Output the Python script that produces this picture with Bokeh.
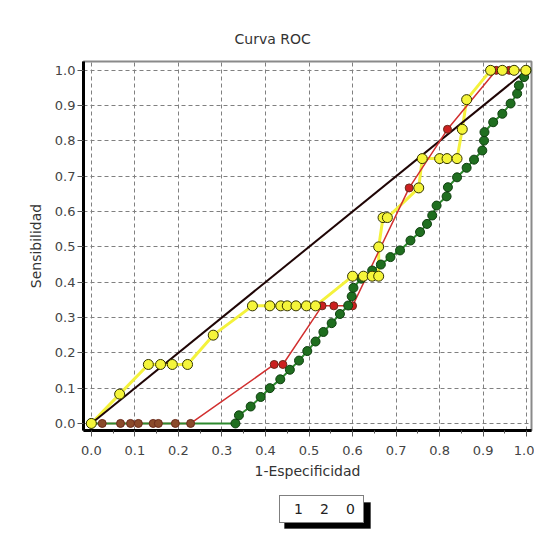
from bokeh.plotting import figure
from bokeh.models import Range1d, Legend, LegendItem, FixedTicker, NumeralTickFormatter, BoxAnnotation
from bokeh.layouts import column
from bokeh.embed import file_html
from bokeh.resources import INLINE

# ---- data ----
diag_x = [0.0, 1.0]
diag_y = [0.0, 1.0]

yellow_x = [0.0, 0.065, 0.131, 0.159, 0.186, 0.221, 0.28, 0.37, 0.41, 0.435, 0.45, 0.47,
            0.494, 0.515, 0.60, 0.625, 0.645, 0.66, 0.66, 0.67, 0.68, 0.752, 0.76, 0.80,
            0.817, 0.84, 0.852, 0.862, 0.917, 0.944, 0.971, 0.998]
yellow_y = [0.0, 0.083, 0.167, 0.167, 0.167, 0.167, 0.25, 0.333, 0.333, 0.333, 0.333, 0.333,
            0.333, 0.333, 0.417, 0.417, 0.417, 0.417, 0.5, 0.583, 0.583, 0.667, 0.75, 0.75,
            0.75, 0.75, 0.833, 0.917, 1.0, 1.0, 1.0, 1.0]

red_x = [0.0, 0.025, 0.067, 0.09, 0.108, 0.142, 0.154, 0.193, 0.228, 0.42, 0.44, 0.53,
         0.557, 0.60, 0.73, 0.818, 0.93, 0.96, 1.0]
red_y = [0.0, 0.0, 0.0, 0.0, 0.0, 0.0, 0.0, 0.0, 0.0, 0.167, 0.167, 0.333,
         0.333, 0.333, 0.667, 0.833, 1.0, 1.0, 1.0]

green_x = [0.0, 0.331, 0.339, 0.366, 0.389, 0.41, 0.434, 0.456, 0.477, 0.496, 0.515, 0.533,
           0.552, 0.571, 0.59, 0.598, 0.602, 0.62, 0.645, 0.665, 0.687, 0.709, 0.733, 0.755,
           0.771, 0.783, 0.793, 0.816, 0.819, 0.84, 0.862, 0.879, 0.898, 0.902, 0.903, 0.923,
           0.944, 0.963, 0.978, 0.982, 0.994, 1.0]
green_y = [0.0, 0.0, 0.023, 0.048, 0.075, 0.10, 0.125, 0.152, 0.178, 0.205, 0.232, 0.259,
           0.284, 0.31, 0.334, 0.36, 0.384, 0.41, 0.433, 0.45, 0.471, 0.49, 0.518, 0.542,
           0.565, 0.589, 0.617, 0.643, 0.669, 0.697, 0.724, 0.747, 0.773, 0.801, 0.825, 0.853,
           0.877, 0.906, 0.934, 0.957, 0.981, 1.0]

ticks = [0.0, 0.1, 0.2, 0.3, 0.4, 0.5, 0.6, 0.7, 0.8, 0.9, 1.0]
legend_labels = ["1", "2", "0"]

FONT = "DejaVu Sans"
W = 534

p = figure(width=W, height=490, output_backend="svg", toolbar_location=None,
           x_range=Range1d(-0.018, 1.011), y_range=Range1d(-0.02, 1.025),
           title="Curva ROC",
           min_border_left=83, min_border_right=3, min_border_top=61, min_border_bottom=60)

p.title.align = "left"
p.title.offset = 151
p.title.text_font = FONT
p.title.text_font_size = "14px"
p.title.text_font_style = "normal"
p.title.text_color = "#333333"
p.title.standoff = 30

p.background_fill_color = "white"
p.border_fill_color = "white"
p.outline_line_color = "#8a8a8a"
p.outline_line_width = 2

for ax in (p.xaxis[0], p.yaxis[0]):
    ax.ticker = FixedTicker(ticks=ticks, minor_ticks=[t + 0.05 for t in ticks[:-1]])
    ax.formatter = NumeralTickFormatter(format="0.0")
    ax.axis_line_color = "black"
    ax.axis_line_width = 3
    ax.major_tick_line_color = "#555555"
    ax.minor_tick_line_color = "#555555"
    ax.major_tick_out = 6
    ax.major_tick_in = 0
    ax.minor_tick_out = 3
    ax.minor_tick_in = 0
    ax.major_label_text_font = FONT
    ax.major_label_text_font_size = "13px"
    ax.major_label_text_color = "#444444"
    ax.major_label_standoff = 2
    ax.axis_label_text_font = FONT
    ax.axis_label_text_font_size = "14px"
    ax.axis_label_text_font_style = "normal"
    ax.axis_label_text_color = "#333333"
    ax.axis_label_standoff = 8

p.xaxis[0].major_label_standoff = 9
p.xaxis[0].axis_label_standoff = 5
p.yaxis[0].minor_tick_line_color = None
p.xaxis.axis_label = "1-Especificidad"
p.yaxis.axis_label = "Sensibilidad"

for g in (p.xgrid[0], p.ygrid[0]):
    g.ticker = FixedTicker(ticks=ticks)
    g.grid_line_color = "#808080"
    g.grid_line_dash = "4 3"
    g.grid_line_width = 1

# lines
p.line(yellow_x, yellow_y, line_color="#f4f23c", line_width=3)
p.line(diag_x, diag_y, line_color="#1f0505", line_width=2)
p.line(red_x, red_y, line_color="#d23030", line_width=1.5)
p.line(green_x, green_y, line_color="#2e8a2e", line_width=2)

red_fill = ["#8a4a2a" if v == 0 else "#cc2020" for v in red_y]
p.scatter(red_x, red_y, size=8, fill_color=red_fill, line_color="#6b2a1a", line_width=1)
p.scatter(green_x, green_y, size=9, fill_color="#1f6e1f", line_color="#0f3f0f", line_width=1)
p.scatter(yellow_x, yellow_y, size=10, fill_color="#f5f53a", line_color="#333300", line_width=1)

# ---- legend strip below ----
p2 = figure(width=W, height=50, output_backend="svg", toolbar_location=None,
            x_range=Range1d(0, W), y_range=Range1d(0, 50),
            x_axis_type=None, y_axis_type=None, min_border=0)
p2.outline_line_color = None
p2.background_fill_color = "white"
p2.border_fill_color = "white"
p2.xgrid.visible = False
p2.ygrid.visible = False

leg_colors = ["#d23030", "#2e8a2e", "#f4f23c"]
dummies = [p2.line(x=[], y=[], line_color=c, line_width=2) for c in leg_colors]
items = [LegendItem(label=l, renderers=[d]) for l, d in zip(legend_labels, dummies)]

# drop shadow of the legend box
p2.add_layout(BoxAnnotation(left=201, right=287, bottom=12, top=38,
                            left_units="screen", right_units="screen",
                            bottom_units="screen", top_units="screen",
                            fill_color="black", fill_alpha=1.0, line_color="black"))

legend = Legend(items=items, orientation="horizontal", location=(196, 17),
                glyph_width=6, glyph_height=10, label_standoff=3, spacing=5,
                label_width=12, label_height=14,
                padding=5, margin=0,
                label_text_font=FONT, label_text_font_size="14px",
                label_text_color="#222222",
                background_fill_color="white", background_fill_alpha=1.0,
                border_line_color="black", border_line_width=1)
p2.add_layout(legend, "center")

layout = column(p, p2, spacing=0)
open("out.html", "w").write(file_html(layout, INLINE))
